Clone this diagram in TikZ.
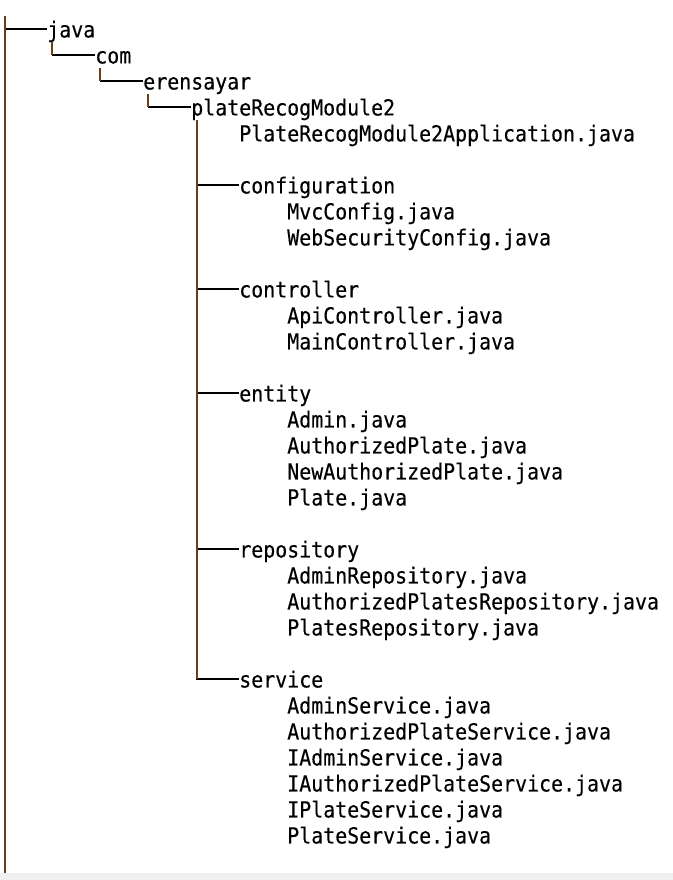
\documentclass[tikz,border=0pt]{standalone}
\usepackage{fontspec}
\setmonofont[FakeStretch=0.9, FakeBold=0.3]{DejaVu Sans Mono}
\usepackage{tikz}

\definecolor{stemBrown}{HTML}{6B3E1A}
\definecolor{stripGray}{HTML}{F0F0F0}

\begin{document}
\begin{tikzpicture}[x=0.75pt, y=-0.75pt]
  \tikzstyle{entry} = [anchor=west, inner sep=0pt, text height=16.1pt, text depth=3.4pt, font={\ttfamily\fontsize{16.6}{20}\selectfont}];
  \tikzstyle{dirNode} = [entry];
  \tikzstyle{fileNode} = [entry];

  \tikzstyle{treeBranch} = [black, line width=1.1pt];
  \tikzstyle{treeStem} = [stemBrown, line width=1.4pt];

  \useasboundingbox (0,0) rectangle (673,880);
  \fill[stripGray] (0,873) rectangle (673,880);

  \node[dirNode]  (java)        at (47,29)  {java};
  \node[dirNode]  (com)         at (95,55)  {com};
  \node[dirNode]  (erensayar)   at (143,81) {erensayar};
  \node[dirNode]  (plateModule) at (191,107) {plateRecogModule2};
  \node[fileNode] (appFile)     at (239,133) {PlateRecogModule2Application.java};

  \node[dirNode]  (configuration)     at (239,185) {configuration};
  \node[fileNode] (mvcConfig)         at (287,211) {MvcConfig.java};
  \node[fileNode] (webSecurityConfig) at (287,237) {WebSecurityConfig.java};

  \node[dirNode]  (controller)     at (239,289) {controller};
  \node[fileNode] (apiController)  at (287,315) {ApiController.java};
  \node[fileNode] (mainController) at (287,341) {MainController.java};

  \node[dirNode]  (entity)             at (239,393) {entity};
  \node[fileNode] (admin)              at (287,419) {Admin.java};
  \node[fileNode] (authorizedPlate)    at (287,445) {AuthorizedPlate.java};
  \node[fileNode] (newAuthorizedPlate) at (287,471) {NewAuthorizedPlate.java};
  \node[fileNode] (plate)              at (287,497) {Plate.java};

  \node[dirNode]  (repository)                 at (239,549) {repository};
  \node[fileNode] (adminRepository)            at (287,575) {AdminRepository.java};
  \node[fileNode] (authorizedPlatesRepository) at (287,601) {AuthorizedPlatesRepository.java};
  \node[fileNode] (platesRepository)           at (287,627) {PlatesRepository.java};

  \node[dirNode]  (service)                 at (239,679) {service};
  \node[fileNode] (adminService)            at (287,705) {AdminService.java};
  \node[fileNode] (authorizedPlateService)  at (287,731) {AuthorizedPlateService.java};
  \node[fileNode] (iAdminService)           at (287,757) {IAdminService.java};
  \node[fileNode] (iAuthorizedPlateService) at (287,783) {IAuthorizedPlateService.java};
  \node[fileNode] (iPlateService)           at (287,809) {IPlateService.java};
  \node[fileNode] (plateService)            at (287,835) {PlateService.java};

  % root line
  \coordinate (rootTop) at (5,16);
  \coordinate (rootEnd) at (5,873);
  \draw[treeBranch] (rootTop |- java.west) -- (java.west);
  \draw[treeStem] (rootTop) -- (rootEnd);

  % nested folders
  \coordinate (javaStem)  at ([xshift=4pt]java.south west);
  \coordinate (comStem)   at ([xshift=4pt]com.south west);
  \coordinate (erenStem)  at ([xshift=4pt]erensayar.south west);
  \coordinate (plateStem) at ([xshift=4.5pt]plateModule.south west);

  \draw[treeBranch] (javaStem) |- (com.west)
                    (comStem) |- (erensayar.west)
                    (erenStem) |- (plateModule.west);
  \draw[treeStem] (javaStem) -- (javaStem |- com.west)
                  (comStem) -- (comStem |- erensayar.west)
                  (erenStem) -- (erenStem |- plateModule.west);

  % packages
  \draw[treeBranch] (plateStem) |- (configuration.west)
                    (plateStem) |- (controller.west)
                    (plateStem) |- (entity.west)
                    (plateStem) |- (repository.west)
                    (plateStem) |- (service.west);
  \draw[treeStem] (plateStem) -- (plateStem |- service.west);
\end{tikzpicture}
\end{document}
